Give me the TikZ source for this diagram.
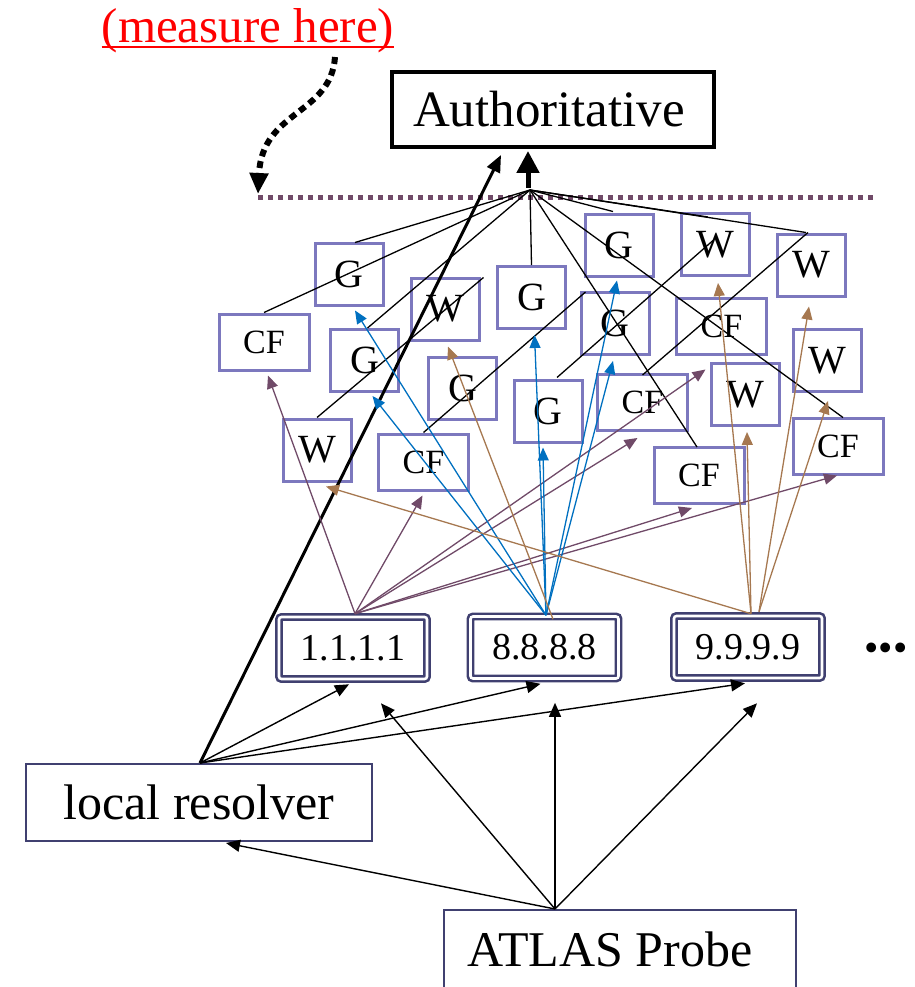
\documentclass[tikz,border=0pt]{standalone}
\usepackage{fontspec}
\setmainfont{Liberation Serif}
\usetikzlibrary{arrows.meta,calc}
\definecolor{boxblue}{RGB}{124,120,190}
\definecolor{navy}{RGB}{64,64,112}
\definecolor{plum}{RGB}{112,74,104}
\definecolor{gblue}{RGB}{0,112,192}
\definecolor{qbrown}{RGB}{166,120,80}
\begin{document}
\begin{tikzpicture}[x=1pt,y=-1pt,
  sbox/.style={draw=boxblue,line width=3pt,inner sep=0pt,minimum width=68pt,minimum height=62pt,font=\fontsize{40}{42}\selectfont},
  cfbox/.style={sbox,minimum width=90pt,minimum height=56pt,font=\fontsize{34}{36}\selectfont},
  resbox/.style={draw=navy,line width=2.6pt,double=white,double distance=2.6pt,rounded corners=2.5pt,minimum width=148pt,minimum height=62pt,inner sep=0pt,font=\fontsize{38}{40}\selectfont},
  bigbox/.style={draw=navy,line width=1.6pt,inner sep=0pt,font=\fontsize{50}{54}\selectfont},
  fan/.style={black,line width=1.3pt},
  parr/.style={plum,line width=1.3pt,-{Triangle[length=13pt,width=11pt]}},
  barr/.style={gblue,line width=1.3pt,-{Triangle[length=13pt,width=11pt]}},
  narr/.style={qbrown,line width=1.3pt,-{Triangle[length=13pt,width=11pt]}},
  karr/.style={black,line width=1.4pt,-{Triangle[length=14pt,width=12pt]}},
]
\useasboundingbox (0,0) rectangle (914,987);

% labels and main boxes
\node[red,inner sep=0pt,anchor=base,font=\fontsize{49}{52}\selectfont] (meas) at (248,43) {(measure here)};
\draw[red,line width=2.4pt] ($(meas.base west)+(0,4)$) -- ($(meas.base east)+(0,4)$);
\node[draw=black,line width=4pt,inner sep=0pt,minimum width=322pt,minimum height=75pt,font=\fontsize{51}{54}\selectfont] (auth) at (553,109.5) {Authoritative\hspace*{8pt}};
\node[bigbox,minimum width=346.4pt,minimum height=77.4pt] (lr) at (199,802.5) {local resolver};
\node[bigbox,minimum width=352.4pt,minimum height=78.4pt] (probe) at (620,949) {ATLAS Probe\hspace*{20pt}};

% resolvers
\node[resbox] (r1) at (353,648) {1.1.1.1};
\node[resbox] (r2) at (544.5,647.5) {8.8.8.8};
\node[resbox] (r3) at (748,647) {9.9.9.9};
\node[inner sep=0pt,anchor=base,font=\fontsize{41}{44}\selectfont] (dots) at (886,661) {•••};

% small boxes
\node[sbox] (g1) at (349,274) {G};
\node[sbox] (g2) at (364.5,360.5) {G};
\node[sbox] (g3) at (462.5,388.5) {G};
\node[sbox] (g4) at (531.5,297.5) {G};
\node[sbox] (g5) at (619,245) {G};
\node[sbox] (g6) at (615,323.5) {G};
\node[sbox] (g7) at (548,411) {G};
\node[sbox] (w1) at (445,309) {W};
\node[sbox] (w2) at (715,244.5) {W};
\node[sbox] (w3) at (811,265) {W};
\node[sbox] (w4) at (827,360.5) {W};
\node[sbox] (w5) at (317,450) {W};
\node[sbox] (w6) at (745,394.5) {W};
\node[cfbox] (c1) at (264,342) {CF};
\node[cfbox] (c2) at (423.5,462) {CF};
\node[cfbox] (c3) at (642.5,402.5) {CF};
\node[cfbox] (c4) at (721.5,326) {CF};
\node[cfbox] (c5) at (838,446) {CF};
\node[cfbox] (c6) at (699,475.5) {CF};

% coordinates
\coordinate (hub) at (530,190);
\coordinate (lineL) at (258,197);
\coordinate (lineR) at (876,197);
\coordinate (mstart) at (335,57);
\coordinate (mtip) at (258,194);
\coordinate (src1) at ($(r1.north)+(2,-2)$);
\coordinate (src2) at ($(r2.north)+(1.5,0)$);
\coordinate (src2b) at ($(r2.north)+(8.5,4)$);
\coordinate (src3) at ($(r3.north)+(3,-1)$);
\coordinate (src3b) at ($(r3.north)+(11,-3)$);
\coordinate (lrtop) at ($(lr.north)+(1,0)$);
\coordinate (prtop) at ($(probe.north)+(-65,0)$);
\coordinate (e1) at ($(r1.south)+(28,23)$);
\coordinate (e2) at ($(r2.south)+(10.5,23)$);
\coordinate (e3) at ($(r3.south)+(9,24)$);

% measurement line and arrow
\draw[plum,line width=5pt,dash pattern=on 5pt off 5pt] (lineL) -- (lineR);
\draw[black,line width=6pt,dash pattern=on 7pt off 5pt,-{Triangle[length=21pt,width=18pt]}] (mstart) .. controls (331,115) and (262,110) .. (mtip);

% fan lines
\draw[fan] (hub) -- ($(g1.north)+(6,1)$);
\draw[fan] (hub) -- (c1.north);
\draw[fan] (hub) -- ($(g2.north)+(3,0)$);
\draw[fan] (hub) -- (g4.north);
\draw[fan] (hub) -- ($(g5.north)+(-6,-1)$);
\draw[fan] (hub) -- ($(w2.north)+(-7,5)$);
\draw[fan] (hub) -- ($(w3.north)+(-5,0)$);
\draw[fan] (hub) -- ($(c5.north)+(5,1)$);
\draw[fan] (hub) -- ($(c6.north)+(-2,1)$);
\draw[fan] (w5.north) -- ($(w1.north east)+(3,1)$);
\draw[fan] (c2.north) -- ($(g6.north west)+(6,1)$);
\draw[fan] ($(g7.north)+(9,-1)$) -- ($(w2.center)+(-2,-4)$);
\draw[fan] ($(c3.north)+(0,2)$) -- ($(w3.north)+(-3,0)$);

% hub to authoritative
\draw[black,line width=5pt,-{Triangle[length=22pt,width=22pt]}] ($(hub)+(-2,-2)$) -- ($(auth.south)+(-25,2)$);
\draw[black,line width=3pt,-{Triangle[length=17pt,width=14pt]}] (lrtop) -- ($(auth.south)+(-52,6)$);

% Cloudflare (purple)
\draw[parr] (src1) -- ($(c1.south)+(4,4)$);
\draw[parr] (src1) -- ($(c2.south)+(-1,4)$);
\draw[parr] (src1) -- ($(c3.south)+(-5,6)$);
\draw[parr] (src1) -- ($(c4.south)+(-16,14)$);
\draw[parr] (src1) -- ($(c6.south)+(-7,3)$);
\draw[parr] (src1) -- ($(c5.south)+(-1,0)$);

% Google (blue)
\draw[barr] (src2) -- ($(g1.south)+(6,4)$);
\draw[barr] (src2) -- ($(g2.south)+(8,3)$);
\draw[barr] (src2) -- ($(g4.south)+(3,5)$);
\draw[barr] (src2) -- ($(g5.south)+(-2,3)$);
\draw[barr] (src2) -- ($(g6.south)+(-2,5)$);
\draw[barr] (src2) -- ($(g7.south)+(-5,4)$);

% Quad9 (brown)
\draw[narr] (src2b) -- ($(w1.south)+(3,5)$);
\draw[narr] (src3) -- ($(w5.south)+(9,4)$);
\draw[narr] (src3) -- ($(w2.south)+(3,6)$);
\draw[narr] (src3b) -- ($(w3.south)+(-2,9)$);
\draw[narr] (src3) -- ($(w6.south)+(2,5)$);
\draw[narr] (src3b) -- ($(w4.south)+(1,8)$);

% black arrows
\draw[karr] (lrtop) -- ($(r1.south)+(-4,4)$);
\draw[karr] (lrtop) -- ($(r2.south)+(-4,4)$);
\draw[karr] (lrtop) -- ($(r3.south)+(-3,4)$);
\draw[karr] (prtop) -- ($(lr.south)+(27,1)$);
\draw[karr] (prtop) -- (e1);
\draw[karr] (prtop) -- (e2);
\draw[karr] (prtop) -- (e3);
\end{tikzpicture}
\end{document}
